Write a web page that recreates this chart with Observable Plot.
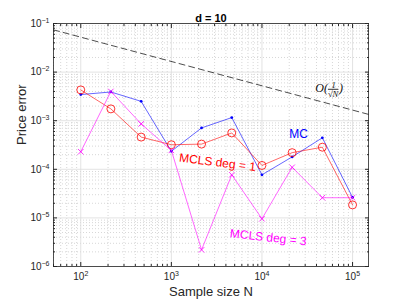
<!DOCTYPE html>
<html><head><meta charset="utf-8">
<script src="https://cdn.jsdelivr.net/npm/d3@7"></script>
<script src="https://cdn.jsdelivr.net/npm/@observablehq/plot@0.6"></script>
<style>body{margin:0;background:#fff}</style>
</head><body><div id="chart"></div>
<script>
// ---- data ----
const sampleSizes = [100, 215, 464, 1000, 2154, 4642, 10000, 21544, 46416, 100000];
const mcError     = [3.45e-3, 3.9e-3, 2.5e-3, 2.35e-4, 7.1e-4, 1.16e-3, 7.7e-5, 1.8e-4, 4.45e-4, 2.65e-5];
const mcls1Error  = [4.3e-3, 1.75e-3, 4.6e-4, 3.2e-4, 3.3e-4, 5.6e-4, 1.2e-4, 2.2e-4, 2.85e-4, 1.85e-5];
const mcls3Error  = [2.3e-4, 4.0e-3, 8.6e-4, 2.45e-4, 2.2e-6, 7.7e-5, 9.6e-6, 1.1e-4, 2.6e-5, 2.6e-5];
const refN     = [50, 150000];
const refError = [0.074, 0.00135];
const xDomain = [50, 150000];
const yDomain = [1e-6, 1e-1];
const xTicks = [1e2, 1e3, 1e4, 1e5];
const yTicks = [1e-6, 1e-5, 1e-4, 1e-3, 1e-2, 1e-1];
const titleText = "d = 10";
const xLabel = "Sample size N";
const yLabel = "Price error";
const annotations = [
  {label: "MC", n: 25400, err: 5.4e-4, color: "#0000ff", rotate: 0},
  {label: "MCLS deg = 1", n: 3230, err: 1.38e-4, color: "#ff0000", rotate: 7},
  {label: "MCLS deg = 3", n: 11750, err: 3.95e-6, color: "#ff00ff", rotate: 6}
];
const rateLabel = {label: "O(1/√N)", n: 55200, err: 4.6e-3};

// minor tick positions (2..9 x 10^k inside the domain)
function minorTicks(domain) {
  const out = [];
  for (let e = Math.floor(Math.log10(domain[0])); e <= Math.ceil(Math.log10(domain[1])); e++)
    for (let m = 2; m <= 9; m++) {
      const v = m * Math.pow(10, e);
      if (v >= domain[0] && v <= domain[1]) out.push(v);
    }
  return out;
}
const xMinor = minorTicks(xDomain);
const yMinor = minorTicks(yDomain);

const rows = sampleSizes.map((n, i) => ({n, mc: mcError[i], m1: mcls1Error[i], m3: mcls3Error[i]}));
const refRows = refN.map((n, i) => ({n, e: refError[i]}));
const fmt = d => "10^" + Math.round(Math.log10(d));
const axisColor = "#262626";

const plot = Plot.plot({
  width: 407, height: 305,
  marginLeft: 53, marginRight: 39, marginTop: 23, marginBottom: 39,
  style: {fontFamily: "'Liberation Sans', Arial, Helvetica, sans-serif", fontSize: "10px", color: axisColor, background: "#fff"},
  x: {type: "log", domain: xDomain, axis: null},
  y: {type: "log", domain: yDomain, axis: null},
  marks: [
    Plot.gridX(xMinor, {stroke: "#bcbcbc", strokeOpacity: 1, strokeWidth: 0.6, strokeDasharray: "1,2"}),
    Plot.gridY(yMinor, {stroke: "#bcbcbc", strokeOpacity: 1, strokeWidth: 0.6, strokeDasharray: "1,2"}),
    Plot.gridX(xTicks, {stroke: "#dcdcdc", strokeOpacity: 1, strokeWidth: 0.8}),
    Plot.gridY(yTicks, {stroke: "#dcdcdc", strokeOpacity: 1, strokeWidth: 0.8}),
    Plot.line(refRows, {x: "n", y: "e", stroke: "#000", strokeWidth: 0.7, strokeDasharray: "6,4"}),
    Plot.line(rows, {x: "n", y: "mc", stroke: "#0000ff", strokeWidth: 0.6}),
    Plot.dot(rows, {x: "n", y: "mc", fill: "#0000ff", r: 1.4}),
    Plot.line(rows, {x: "n", y: "m1", stroke: "#ff0000", strokeWidth: 0.6}),
    Plot.dot(rows, {x: "n", y: "m1", stroke: "#ff0000", fill: "none", r: 4, strokeWidth: 0.8}),
    Plot.line(rows, {x: "n", y: "m3", stroke: "#ff00ff", strokeWidth: 0.6}),
    Plot.dot(rows, {x: "n", y: "m3", stroke: "#ff00ff", symbol: "times", r: 2.6, strokeWidth: 0.8}),
    Plot.text(annotations, {x: "n", y: "err", text: "label", fill: "color", rotate: "rotate", fontSize: 12}),
    Plot.text([rateLabel], {x: "n", y: "err", text: "label", fontSize: 12, fontStyle: "italic", fontFamily: "'Liberation Serif', 'DejaVu Serif', serif", fill: "#111"}),
    Plot.frame({stroke: axisColor, strokeWidth: 0.8}),
    // ticks inward on all four sides
    Plot.axisX(xTicks, {anchor: "bottom", tickSize: -4, fill: "none", label: null, stroke: axisColor}),
    Plot.axisX(xTicks, {anchor: "top", tickSize: -4, fill: "none", label: null, stroke: axisColor}),
    Plot.axisX(xMinor, {anchor: "bottom", tickSize: -2, fill: "none", label: null, stroke: axisColor}),
    Plot.axisX(xMinor, {anchor: "top", tickSize: -2, fill: "none", label: null, stroke: axisColor}),
    Plot.axisY(yTicks, {anchor: "left", tickSize: -4, fill: "none", label: null, stroke: axisColor}),
    Plot.axisY(yTicks, {anchor: "right", tickSize: -4, fill: "none", label: null, stroke: axisColor}),
    Plot.axisY(yMinor, {anchor: "left", tickSize: -2, fill: "none", label: null, stroke: axisColor}),
    Plot.axisY(yMinor, {anchor: "right", tickSize: -2, fill: "none", label: null, stroke: axisColor}),
    // tick labels
    Plot.axisX(xTicks, {anchor: "bottom", tickSize: 0, tickPadding: 6, tickFormat: fmt, label: null, fill: axisColor, fontSize: 10}),
    Plot.axisY(yTicks, {anchor: "left", tickSize: 0, tickPadding: 4, tickFormat: fmt, label: null, fill: axisColor, fontSize: 10}),
    // title and axis labels
    Plot.text([titleText], {frameAnchor: "top", dy: -9, fontWeight: "bold", fontSize: 11, fill: "#000"}),
    Plot.text([xLabel], {frameAnchor: "bottom", dy: 29, fontSize: 13, fill: axisColor}),
    Plot.text([yLabel], {frameAnchor: "left", dx: -32, rotate: -90, fontSize: 13, fill: axisColor})
  ]
});

// turn "10^k" labels into 10 with a raised exponent; stack the rate fraction
d3.select(plot).selectAll("text").each(function () {
  const t = d3.select(this);
  const s = this.textContent;
  if (/^10\^-?\d+$/.test(s)) {
    const exp = s.split("^")[1];
    t.text("");
    t.append("tspan").text("10");
    t.append("tspan").attr("dy", "-0.55em").attr("font-size", "7px").text(exp.replace("-", "\u2212"));
  } else if (s === rateLabel.label) {
    t.text("");
    t.append("tspan").text("O(");
    t.append("tspan").attr("font-size", "8.5px").attr("dy", "-4").attr("dx", "3.5").text("1");
    t.append("tspan").attr("font-size", "8.5px").attr("dy", "8.5").attr("dx", "-7.8")
      .style("text-decoration", "overline").text("\u221AN");
    t.append("tspan").attr("dy", "-4.5").attr("dx", "0.8").text(")");
  }
});
document.getElementById("chart").appendChild(plot);
</script>
</body></html>
